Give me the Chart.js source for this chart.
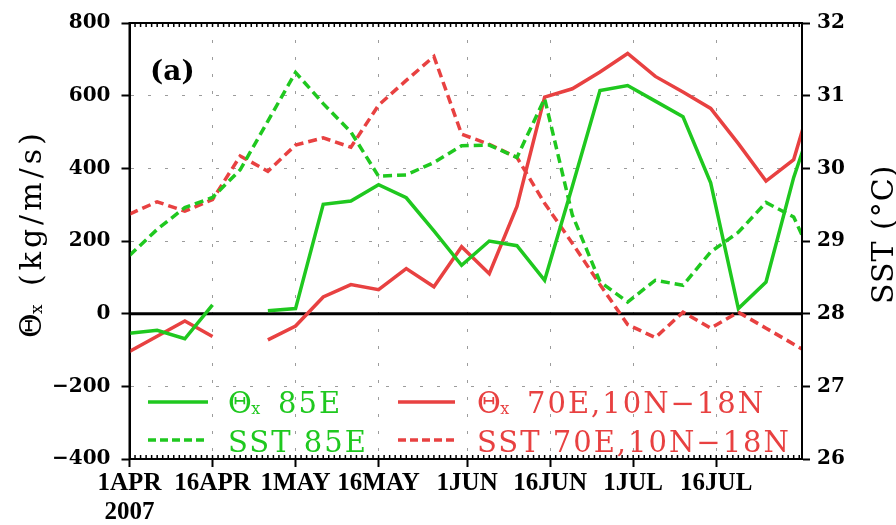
<!DOCTYPE html>
<html>
<head>
<meta charset="utf-8">
<script src="https://cdn.jsdelivr.net/npm/chart.js@4.4.1/dist/chart.umd.min.js"></script>
<style>
  html, body { margin: 0; padding: 0; background: #fff; }
  canvas { display: block; }
</style>
</head>
<body>
<canvas id="chart" width="896" height="525"></canvas>
<script>
// pentad values, day 0 = 1 APR 2007
const days = [0, 5, 10, 15, 20, 25, 30, 35, 40, 45, 50, 55, 60, 65, 70, 75, 80, 85, 90, 95, 100, 105, 110, 115, 120, 125];

// Θx (kg/m/s), left axis
const thetaX85 = [-54, -46, -69, 24, null, 8, 14, 301, 310, 355, 319, 228, 133, 200, 187, 92, 350, 614, 628, 585, 542, 360, 14, 87, 375, 600];
const thetaX70 = [-104, -62, -20, -63, null, -72, -34, 46, 80, 66, 124, 74, 184, 110, 295, 596, 619, 665, 716, 653, 610, 565, 468, 365, 424, 680];

// SST (°C), right axis
const sst85 = [28.80, 29.16, 29.46, 29.60, 29.98, 30.65, 31.32, 30.89, 30.50, 29.89, 29.91, 30.08, 30.31, 30.32, 30.15, 30.96, 29.36, 28.44, 28.16, 28.46, 28.39, 28.85, 29.12, 29.53, 29.33, 28.50];
const sst70 = [29.37, 29.54, 29.41, 29.57, 30.17, 29.96, 30.32, 30.42, 30.29, 30.87, 31.21, 31.54, 30.47, 30.33, 30.15, 29.52, 28.97, 28.40, 27.85, 27.67, 28.02, 27.80, 28.02, 27.80, 27.58, 27.36];

const tickDays = [0, 15, 30, 45, 61, 76, 91, 106];
const tickLabels = [['1APR', '2007'], '16APR', '1MAY', '16MAY', '1JUN', '16JUN', '1JUL', '16JUL'];

const GREEN = '#1fc81f';
const RED = '#e84141';
const GRID = '#9c9c9c';
const numFont = "'DejaVu Serif', serif";
const dateFont = "'Liberation Serif', serif";
const textFont = "'DejaVu Serif', serif";

const pts = arr => days.map((d, i) => ({ x: d, y: arr[i] }));

// legend, axis titles, zero line, frame
const decor = {
  id: 'decor',
  beforeDatasetsDraw(chart) {
    const { ctx, chartArea: a, scales } = chart;
    const y0 = scales.y.getPixelForValue(0);
    ctx.save();
    ctx.strokeStyle = '#000';
    ctx.lineWidth = 3;
    ctx.beginPath();
    ctx.moveTo(a.left, y0);
    ctx.lineTo(a.right, y0);
    ctx.stroke();
    ctx.restore();
  },
  afterDatasetsDraw(chart) {
    const { ctx, chartArea: a, scales } = chart;
    ctx.save();
    ctx.strokeStyle = '#000';
    ctx.lineWidth = 2;
    ctx.strokeRect(a.left, a.top, a.right - a.left, a.bottom - a.top);
    // small day ticks on top and bottom
    ctx.lineWidth = 1.5;
    ctx.beginPath();
    for (let d = 1; d < scales.x.max; d++) {
      const x = scales.x.getPixelForValue(d);
      ctx.moveTo(x, a.bottom); ctx.lineTo(x, a.bottom - 4);
      ctx.moveTo(x, a.top); ctx.lineTo(x, a.top + 4);
    }
    ctx.stroke();
    ctx.restore();
  },
  afterDraw(chart) {
    const { ctx } = chart;
    ctx.save();

    // panel label
    ctx.fillStyle = '#000';
    ctx.font = 'bold 28px ' + numFont;
    ctx.textBaseline = 'alphabetic';
    ctx.fillText('(a)', 150, 80);

    // legend
    const spots = [
      { ds: 0, lx: 148, lw: 60, tx: 228, ly: 402, by: 413 },
      { ds: 1, lx: 148, lw: 56, tx: 228, ly: 440, by: 452 },
      { ds: 2, lx: 398, lw: 57, tx: 477, ly: 402, by: 413 },
      { ds: 3, lx: 398, lw: 57, tx: 477, ly: 440, by: 452 }
    ];
    spots.forEach(s => {
      const ds = chart.data.datasets[s.ds];
      ctx.strokeStyle = ds.borderColor;
      ctx.lineWidth = 3.5;
      ctx.setLineDash(ds.legendDash || []);
      ctx.beginPath();
      ctx.moveTo(s.lx, s.ly);
      ctx.lineTo(s.lx + s.lw, s.ly);
      ctx.stroke();
      ctx.setLineDash([]);
      ctx.fillStyle = ds.borderColor;
      drawLabel(ctx, ds.label, s.tx, s.by, 29, 2, 50);
    });

    // left axis title, reading upward
    ctx.fillStyle = '#000';
    ctx.save();
    ctx.translate(41, 338);
    ctx.rotate(-Math.PI / 2);
    drawLabel(ctx, 'Θx (kg/m/s)', 0, 0, 30, 4, 52);
    ctx.restore();

    // right axis title
    ctx.save();
    ctx.translate(893, 304);
    ctx.rotate(-Math.PI / 2);
    ctx.font = '30px ' + textFont;
    ctx.letterSpacing = '1px';
    ctx.fillText('SST (°C)', 0, 0);
    ctx.restore();

    ctx.restore();
  }
};

// text with "Θx" drawn as Θ and a small subscript x
function drawLabel(ctx, text, x, y, F, sp, restOff) {
  ctx.textBaseline = 'alphabetic';
  ctx.textAlign = 'left';
  ctx.letterSpacing = sp + 'px';
  ctx.font = F + 'px ' + textFont;
  if (text.startsWith('Θx')) {
    ctx.fillText('Θ', x, y);
    ctx.font = Math.round(F * 0.55) + 'px ' + textFont;
    ctx.fillText('x', x + F * 0.8, y + 1);
    ctx.font = F + 'px ' + textFont;
    ctx.fillText(text.slice(3), x + restOff, y);
  } else {
    ctx.fillText(text, x, y);
  }
  ctx.letterSpacing = '0px';
}

const lineSet = (label, arr, color, axis, dashed) => ({
  label,
  data: pts(arr),
  yAxisID: axis,
  borderColor: color,
  backgroundColor: color,
  borderWidth: 3.5,
  borderDash: dashed ? [9, 5] : [],
  legendDash: dashed ? [8, 4] : [],
  pointRadius: 0,
  tension: 0,
  spanGaps: false,
  clip: 0
});

const minus = v => String(v).replace('-', '\u2212');

new Chart(document.getElementById('chart'), {
  type: 'line',
  data: {
    datasets: [
      lineSet('Θx 85E', thetaX85, GREEN, 'y', false),
      lineSet('SST 85E', sst85, GREEN, 'y2', true),
      lineSet('Θx 70E,10N\u221218N', thetaX70, RED, 'y', false),
      lineSet('SST 70E,10N\u221218N', sst70, RED, 'y2', true)
    ]
  },
  options: {
    responsive: false,
    devicePixelRatio: 1,
    animation: false,
    layout: { padding: { top: 18, left: 0, right: 0, bottom: 0 } },
    plugins: {
      legend: { display: false },
      tooltip: { enabled: false }
    },
    scales: {
      x: {
        type: 'linear',
        min: 0,
        max: 121.5,
        afterBuildTicks: s => { s.ticks = tickDays.map(v => ({ value: v })); },
        afterFit: s => { s.height = 66; },
        ticks: {
          autoSkip: false,
          maxRotation: 0,
          padding: 2,
          color: '#000',
          font: { family: dateFont, size: 25, weight: 'bold', lineHeight: 1.15 },
          callback: v => tickLabels[tickDays.indexOf(v)]
        },
        grid: { color: GRID, lineWidth: 1, tickLength: 8, tickColor: '#000', tickWidth: 2 },
        border: { display: true, color: '#000', width: 2, dash: [3, 14] }
      },
      y: {
        position: 'left',
        min: -400,
        max: 800,
        afterFit: s => { s.width = 129.5; },
        ticks: {
          stepSize: 200,
          padding: 11,
          color: '#000',
          font: { family: numFont, size: 20, weight: 'bold' },
          callback: minus
        },
        grid: { color: GRID, lineWidth: 1, tickLength: 8, tickColor: '#000', tickWidth: 2 },
        border: { display: true, color: '#000', width: 2, dash: [3, 14] }
      },
      y2: {
        position: 'right',
        min: 26,
        max: 32,
        afterFit: s => { s.width = 94; },
        ticks: {
          stepSize: 1,
          padding: 7,
          color: '#000',
          font: { family: numFont, size: 20, weight: 'bold' }
        },
        grid: { drawOnChartArea: false, tickLength: 8, tickColor: '#000', tickWidth: 2 },
        border: { display: true, color: '#000', width: 2 }
      }
    }
  },
  plugins: [decor]
});
</script>
</body>
</html>
